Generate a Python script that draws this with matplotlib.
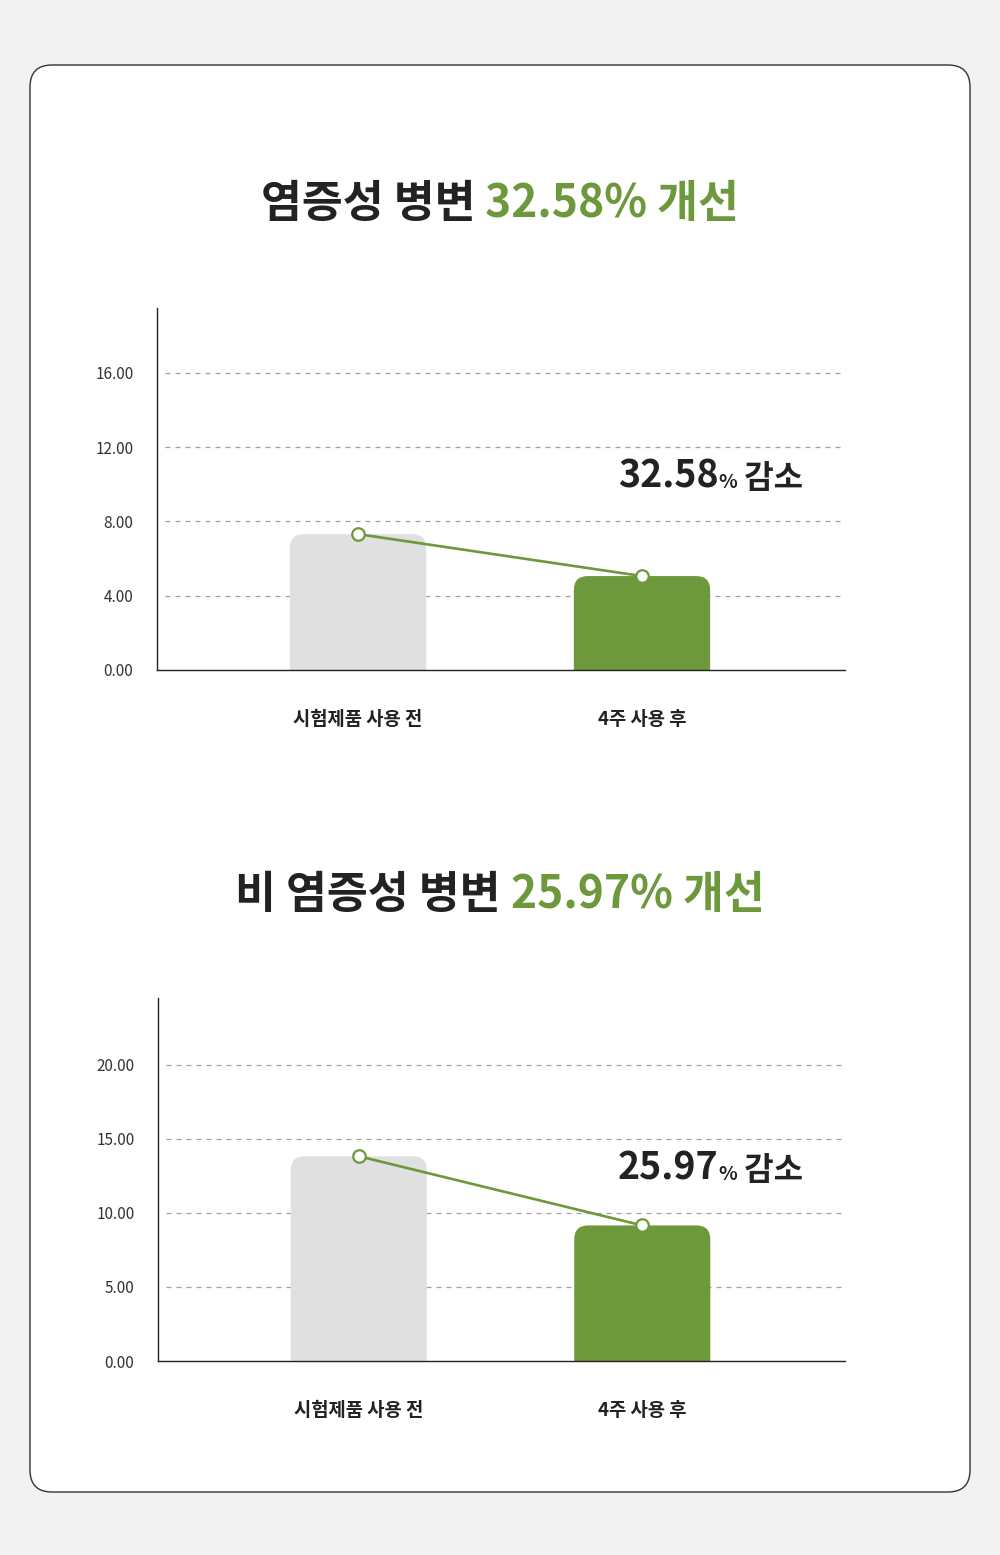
import matplotlib
matplotlib.use("Agg")
import matplotlib.pyplot as plt
from matplotlib.patches import FancyBboxPatch
from matplotlib.transforms import IdentityTransform

plt.rcParams['font.family'] = ['Noto Sans CJK KR', 'DejaVu Sans']

# data
categories = ['시험제품 사용 전', '4주 사용 후']
inflam_values = [7.32, 5.06]
noninflam_values = [13.82, 9.15]
inflam_ticks = [0, 4, 8, 12, 16]
noninflam_ticks = [0, 5, 10, 15, 20]
inflam_title = ('염증성 병변 ', '32.58% 개선')
noninflam_title = ('비 염증성 병변 ', '25.97% 개선')
inflam_note = '32.58'
noninflam_note = '25.97'

GREEN = '#6d983b'
GRAY_BAR = '#e0e0e0'
DARK = '#222222'

W, H = 1000, 1555
fig = plt.figure(figsize=(W / 100, H / 100), dpi=100)
fig.patch.set_facecolor('#f2f2f2')

# white card with rounded corners (pixel coordinates)
card = FancyBboxPatch((30, H - 1492), 940, 1427,
                      boxstyle='round,pad=0,rounding_size=22',
                      transform=IdentityTransform(), facecolor='white',
                      edgecolor='#333333', linewidth=1.0, zorder=-5)
fig.patches.append(card)

renderer = fig.canvas.get_renderer()


def rich_text(pieces, x_px, y_px, ha='center'):
    """pieces: list of (text, size, color). y_px is the baseline, from the top."""
    arts = []
    for txt, size, color in pieces:
        t = fig.text(0, 0, txt, fontsize=size, color=color, fontweight='heavy',
                     va='baseline', ha='left')
        arts.append(t)
    widths = [a.get_window_extent(renderer).width for a in arts]
    total = sum(widths)
    x = x_px - total / 2 if ha == 'center' else x_px
    for a, w in zip(arts, widths):
        a.set_position((x / W, 1 - y_px / H))
        x += w


def draw_chart(rect, values, ticks, ymax):
    ax = fig.add_axes(rect)
    ax.set_facecolor('none')
    xs = [0, 1]
    ax.set_xlim(-0.708, 1.715)
    ax.set_ylim(0, ymax)

    for y in ticks[1:]:
        ax.axhline(y, xmin=0.012, xmax=1, color='#a0a0a0', lw=0.9,
                   ls=(0, (4, 4)), zorder=1)

    # rounded-top bars: round box extended below 0, clipped by the axes
    bbox = ax.get_window_extent(renderer)
    px_per_x = bbox.width / (ax.get_xlim()[1] - ax.get_xlim()[0])
    px_per_y = bbox.height / ymax
    width = 0.48
    radius = 14 / px_per_x
    aspect = px_per_x / px_per_y
    for x, v, c in zip(xs, values, [GRAY_BAR, GREEN]):
        box = FancyBboxPatch((x - width / 2, -ymax * 0.2), width, v + ymax * 0.2,
                             boxstyle=f'round,pad=0,rounding_size={radius}',
                             mutation_aspect=aspect, facecolor=c,
                             edgecolor='none', zorder=2)
        ax.add_patch(box)

    ax.plot(xs, values, color=GREEN, lw=1.9, zorder=3,
            marker='o', markersize=9, markerfacecolor='white',
            markeredgecolor=GREEN, markeredgewidth=1.6)

    ax.set_yticks(ticks)
    ax.set_yticklabels([f'{t:.2f}' for t in ticks], fontsize=11, color='#333333')
    ax.set_xticks(xs)
    ax.set_xticklabels(categories, fontsize=13.5, color=DARK, fontweight='semibold')
    ax.tick_params(axis='y', length=0, pad=17)
    ax.tick_params(axis='x', length=0, pad=29)
    for s in ['top', 'right']:
        ax.spines[s].set_visible(False)
    for s in ['left', 'bottom']:
        ax.spines[s].set_color('#222222')
        ax.spines[s].set_linewidth(1.0)
    return ax


ax1 = draw_chart([157 / W, 1 - 670 / H, 688 / W, 362 / H],
                 inflam_values, inflam_ticks, 19.5)
ax2 = draw_chart([158 / W, 1 - 1361 / H, 687 / W, 363 / H],
                 noninflam_values, noninflam_ticks, 24.5)

rich_text([(inflam_title[0], 32, DARK), (inflam_title[1], 32, GREEN)], 500, 217)
rich_text([(noninflam_title[0], 32, DARK), (noninflam_title[1], 32, GREEN)], 500, 908)

rich_text([(inflam_note, 27, DARK), ('%', 14, DARK), (' 감소', 23, DARK)], 618, 488, ha='left')
rich_text([(noninflam_note, 27, DARK), ('%', 14, DARK), (' 감소', 23, DARK)], 618, 1180, ha='left')

fig.savefig('out.png', dpi=100, facecolor=fig.get_facecolor())
